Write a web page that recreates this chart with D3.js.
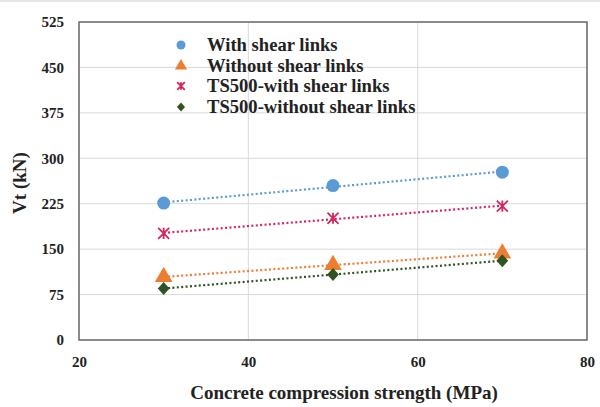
<!DOCTYPE html>
<html>
<head>
<meta charset="utf-8">
<script src="https://cdn.jsdelivr.net/npm/d3@7"></script>
<style>
  html, body { margin: 0; padding: 0; background: #fff; }
  svg text { font-family: "Liberation Serif", "Times New Roman", serif; font-weight: bold; fill: #222; }
</style>
</head>
<body>
<svg id="chart" width="600" height="407"></svg>
<script>
// Concrete compression strength (MPa)
const strength = [30, 50, 70];

// Shear capacity Vt (kN) for each series
const withLinks = [226, 255, 277];
const withoutLinks = [104, 124, 143];
const ts500With = [176, 201, 221];
const ts500Without = [85, 108, 131];

const seriesNames = ["With shear links", "Without shear links", "TS500-with shear links", "TS500-without shear links"];
const seriesColors = ["#5B9BD5", "#ED7D31", "#D6265B", "#2F5321"];
const seriesShapes = ["circle", "triangle", "asterisk", "diamond"];

const xTicks = [20, 40, 60, 80];
const yTicks = [0, 75, 150, 225, 300, 375, 450, 525];

const series = [withLinks, withoutLinks, ts500With, ts500Without].map((vals, i) => ({
  name: seriesNames[i], color: seriesColors[i], shape: seriesShapes[i],
  points: strength.map((s, j) => ({ x: s, y: vals[j] }))
}));

const svg = d3.select("#chart");
const margin = { left: 79, right: 13, top: 22, bottom: 67 };
const W = 600, H = 407;
const x = d3.scaleLinear().domain([20, 80]).range([margin.left, W - margin.right]);
const y = d3.scaleLinear().domain([0, 525]).range([H - margin.bottom, margin.top]);

// faint frame line along the top edge of the figure
svg.append("line").attr("x1", 0).attr("x2", W).attr("y1", 1).attr("y2", 1)
  .attr("stroke", "#e6e6e6").attr("stroke-width", 2);

// gridlines
const grid = svg.append("g");
grid.selectAll(".hg").data(yTicks).join("line")
  .attr("x1", x(20)).attr("x2", x(80))
  .attr("y1", d => y(d)).attr("y2", d => y(d))
  .attr("stroke", "#d9d9d9").attr("stroke-width", 1);
grid.selectAll(".vg").data(xTicks).join("line")
  .attr("x1", d => x(d)).attr("x2", d => x(d))
  .attr("y1", y(0)).attr("y2", y(525))
  .attr("stroke", "#d9d9d9").attr("stroke-width", 1);

// plot border
svg.append("rect")
  .attr("x", x(20)).attr("y", y(525))
  .attr("width", x(80) - x(20)).attr("height", y(0) - y(525))
  .attr("fill", "none").attr("stroke", "#6b6b6b").attr("stroke-width", 1.5);

// axes (labels only; border drawn above)
const xAxis = svg.append("g").attr("transform", `translate(0,${y(0)})`)
  .call(d3.axisBottom(x).tickValues(xTicks).tickSize(0).tickPadding(16));
xAxis.select(".domain").remove();
xAxis.selectAll("text").style("font-size", "15px");

const yAxis = svg.append("g").attr("transform", `translate(${x(20)},0)`)
  .call(d3.axisLeft(y).tickValues(yTicks).tickSize(0).tickPadding(15));
yAxis.select(".domain").remove();
yAxis.selectAll("text").style("font-size", "15px");

// axis titles
svg.append("text").attr("x", 344).attr("y", 399)
  .attr("text-anchor", "middle").style("font-size", "19px")
  .text("Concrete compression strength (MPa)");
svg.append("text").attr("transform", `translate(26,183) rotate(-90)`)
  .attr("text-anchor", "middle").style("font-size", "19px")
  .text("Vt (kN)");

// linear trendlines through each series
function fit(pts) {
  const mx = d3.mean(pts, p => p.x), my = d3.mean(pts, p => p.y);
  const b = d3.sum(pts, p => (p.x - mx) * (p.y - my)) / d3.sum(pts, p => (p.x - mx) ** 2);
  return v => my + b * (v - mx);
}
series.forEach(s => {
  const f = fit(s.points);
  const x0 = d3.min(strength), x1 = d3.max(strength);
  svg.append("line")
    .attr("x1", x(x0)).attr("y1", y(f(x0)))
    .attr("x2", x(x1)).attr("y2", y(f(x1)))
    .attr("stroke", s.color).attr("stroke-width", 2.2)
    .attr("stroke-dasharray", "2,2.4");
});

// marker drawing
function drawMarker(g, shape, color, cx, cy, size) {
  if (shape === "circle") {
    g.append("circle").attr("cx", cx).attr("cy", cy).attr("r", size)
      .attr("fill", color);
  } else if (shape === "triangle") {
    const sym = d3.symbol().type(d3.symbolTriangle).size(size * size * 3.2);
    g.append("path").attr("d", sym()).attr("transform", `translate(${cx},${cy})`)
      .attr("fill", color);
  } else if (shape === "diamond") {
    const s = size;
    g.append("path")
      .attr("d", `M${cx},${cy - s}L${cx + s * 0.9},${cy}L${cx},${cy + s}L${cx - s * 0.9},${cy}Z`)
      .attr("fill", color);
  } else if (shape === "asterisk") {
    const s = size * 0.85;
    const p = `M${cx - s},${cy - s}L${cx + s},${cy + s}M${cx - s},${cy + s}L${cx + s},${cy - s}M${cx},${cy - s}L${cx},${cy + s}`;
    g.append("path").attr("d", p).attr("stroke", color).attr("stroke-width", 1.8)
      .attr("fill", "none");
  }
}

const marks = svg.append("g");
series.forEach(s => {
  s.points.forEach(p => drawMarker(marks, s.shape, s.color, x(p.x), y(p.y), 6.5));
});

// legend
const legend = svg.append("g");
const legendRows = [45, 66, 86, 107];
series.forEach((s, i) => {
  drawMarker(legend, s.shape, s.color, 181, legendRows[i], 4.5);
  legend.append("text").attr("x", 207).attr("y", legendRows[i] + 6)
    .style("font-size", "18.6px").text(s.name);
});
</script>
</body>
</html>
